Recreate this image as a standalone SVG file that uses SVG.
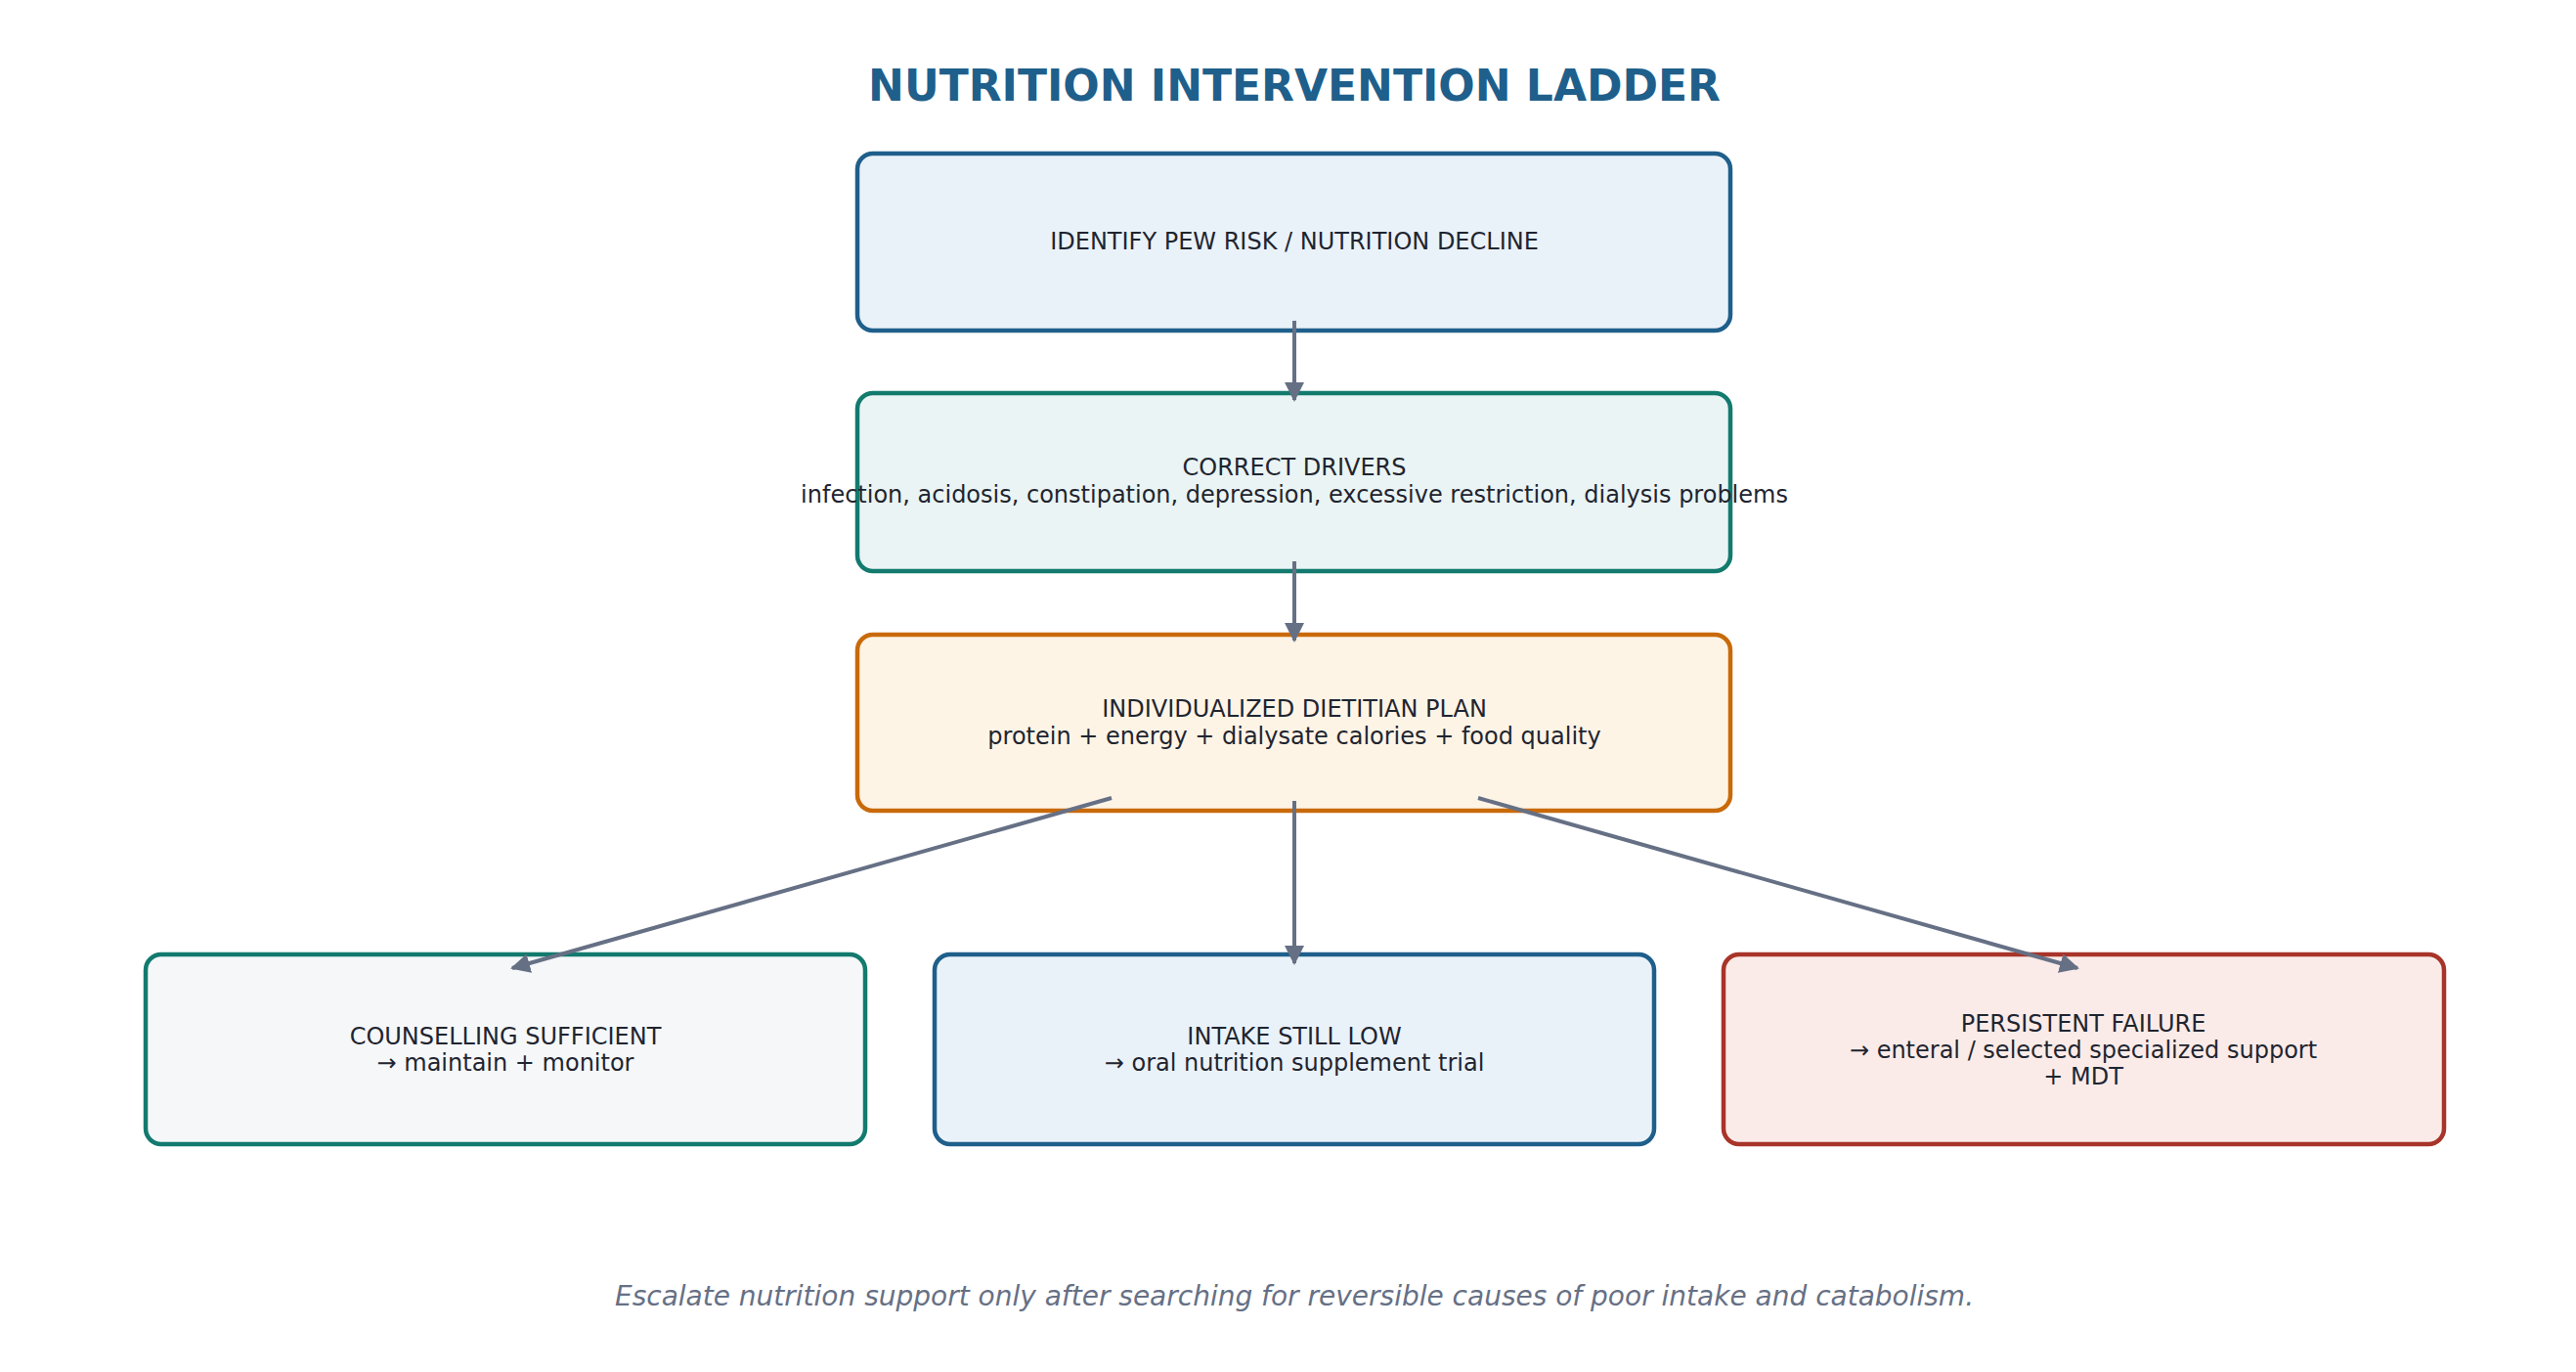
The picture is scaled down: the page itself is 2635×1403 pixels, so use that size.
<svg xmlns="http://www.w3.org/2000/svg" width="2635" height="1403" viewBox="0 0 2635 1403">
<style>
text{font-family:"DejaVu Sans",sans-serif;fill:#1f2530;font-size:24px;text-anchor:middle}
.box{stroke-width:4.5}
.c{stroke:#667085;stroke-width:4;fill:none;marker-end:url(#ah)}
</style>
<defs><marker id="ah" viewBox="0 0 10 10" refX="9" refY="5" markerWidth="5" markerHeight="5" orient="auto" markerUnits="strokeWidth"><path d="M0,0 L10,5 L0,10 z" fill="#667085"/></marker></defs>
<rect width="2635" height="1403" fill="#fff"/>
<text x="1324" y="103" style="font-size:44px;font-weight:bold;fill:#1f5f8b">NUTRITION INTERVENTION LADDER</text>
<g id="n1"><rect class="box" x="877" y="157" width="893" height="181" rx="16" fill="#eaf2f9" stroke="#1f5f8b"/><text x="1324" y="255">IDENTIFY PEW RISK / NUTRITION DECLINE</text></g>
<g id="n2"><rect class="box" x="877" y="402" width="893" height="182" rx="16" fill="#eaf4f4" stroke="#137a6e"/><text x="1324" y="486">CORRECT DRIVERS</text><text x="1324" y="514">infection, acidosis, constipation, depression, excessive restriction, dialysis problems</text></g>
<g id="n3"><rect class="box" x="877" y="649" width="893" height="180" rx="16" fill="#fef4e6" stroke="#c96a0a"/><text x="1324" y="733">INDIVIDUALIZED DIETITIAN PLAN</text><text x="1324" y="761">protein + energy + dialysate calories + food quality</text></g>
<g id="n4"><rect class="box" x="149" y="976" width="736" height="194" rx="16" fill="#f5f7f9" stroke="#137a6e"/><text x="517" y="1068">COUNSELLING SUFFICIENT</text><text x="517" y="1095">→ maintain + monitor</text></g>
<g id="n5"><rect class="box" x="956" y="976" width="736" height="194" rx="16" fill="#eaf2f9" stroke="#1f5f8b"/><text x="1324" y="1068">INTAKE STILL LOW</text><text x="1324" y="1095">→ oral nutrition supplement trial</text></g>
<g id="n6"><rect class="box" x="1763" y="976" width="737" height="194" rx="16" fill="#fbebe8" stroke="#a8342a"/><text x="2131" y="1055">PERSISTENT FAILURE</text><text x="2131" y="1082">→ enteral / selected specialized support</text><text x="2131" y="1109">+ MDT</text></g>
<g id="connectors">
<line class="c" x1="1324" y1="328" x2="1324" y2="409"/>
<line class="c" x1="1324" y1="574" x2="1324" y2="655"/>
<line class="c" x1="1324" y1="819" x2="1324" y2="985"/>
<line class="c" x1="1137" y1="816" x2="524" y2="990"/>
<line class="c" x1="1512" y1="816" x2="2125" y2="990"/>
</g>
<text x="1324" y="1335" style="font-size:28px;font-style:italic;fill:#667085">Escalate nutrition support only after searching for reversible causes of poor intake and catabolism.</text>
</svg>
